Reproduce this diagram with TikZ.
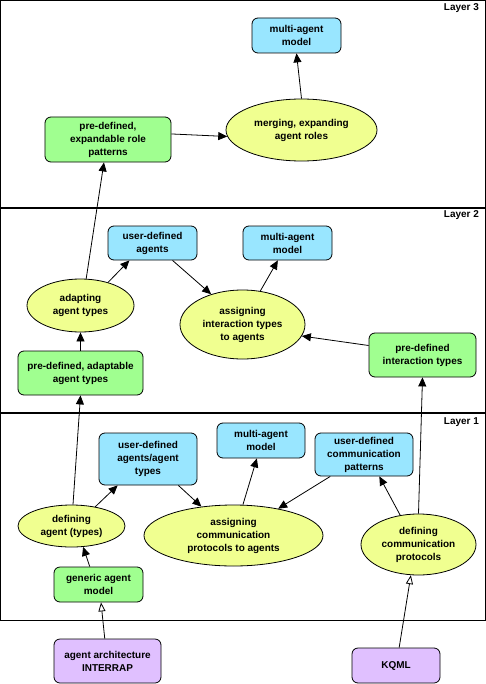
\documentclass[tikz,border=0pt]{standalone}
\usepackage{fontspec}
\setmainfont{Liberation Sans}
\usetikzlibrary{shapes.geometric, arrows.meta}
\definecolor{userblue}{RGB}{153,230,255}
\definecolor{givengreen}{RGB}{160,255,144}
\definecolor{taskyellow}{RGB}{240,255,144}
\definecolor{basepurple}{RGB}{224,192,255}
\begin{document}
\begin{tikzpicture}[x=1bp, y=-1bp]
            \tikzstyle{frame} = [line width=1bp]
            \tikzstyle{divider} = [line width=2bp]
            \tikzstyle{txt} = [draw, line width=0.8bp, align=center, inner sep=0pt, font=\bfseries\fontsize{10}{13}\selectfont]
            \tikzstyle{user} = [txt, rounded corners=6bp, fill=userblue]
            \tikzstyle{given} = [txt, rounded corners=6bp, fill=givengreen]
            \tikzstyle{base} = [txt, rounded corners=6bp, fill=basepurple]
            \tikzstyle{task} = [txt, ellipse, fill=taskyellow]
            \tikzstyle{layertag} = [anchor=north east, inner sep=0pt, font=\bfseries\fontsize{10}{13}\selectfont]
            \tikzstyle{flow} = [line width=0.8bp, -{Triangle[length=9bp, width=8bp]}]
            \tikzstyle{import} = [line width=0.8bp, -{Triangle[open, length=9bp, width=7bp, fill=white]}]
            \useasboundingbox (0, 0) rectangle (486, 684);
            \fill[white] (0, 0) rectangle (486, 684);
            \draw[frame] (0.5, 0.5) rectangle (485.5, 620);
            \draw[divider] (0, 207.5) -- (486, 207.5);
            \draw[divider] (0, 413) -- (486, 413);
            \node[layertag] (tag3) at (479, 3.5) {Layer 3};
            \node[layertag] (tag2) at (479, 210.5) {Layer 2};
            \node[layertag] (tag1) at (479, 417.5) {Layer 1};
            \node[user, minimum width=89bp, minimum height=35bp] (mam3) at (296.5, 35.5) {multi-agent\\model};
            \node[given, minimum width=126bp, minimum height=45bp] (roles) at (108, 139.5) {pre-defined,\\expandable role\\patterns};
            \node[task, minimum width=151bp, minimum height=62bp] (merge) at (301.5, 130) {merging, expanding\\agent roles};
            \node[user, minimum width=89bp, minimum height=34bp] (uda) at (152.5, 243) {user-defined\\agents};
            \node[user, minimum width=89bp, minimum height=34bp] (mam2) at (287.5, 243) {multi-agent\\model};
            \node[task, minimum width=107bp, minimum height=53bp] (adapt) at (80.5, 305.5) {adapting\\agent types};
            \node[task, minimum width=125bp, minimum height=69bp] (assign2) at (242.5, 324.5) {assigning\\interaction types\\to agents};
            \node[given, minimum width=125bp, minimum height=44bp] (predef) at (80.5, 373) {pre-defined, adaptable\\agent types};
            \node[given, minimum width=107bp, minimum height=44bp] (predint) at (422.5, 355) {pre-defined\\interaction types};
            \node[user, minimum width=98bp, minimum height=52bp] (udat) at (148, 459) {user-defined\\agents/agent\\types};
            \node[user, minimum width=88bp, minimum height=35bp] (mam1) at (261, 440.5) {multi-agent\\model};
            \node[user, minimum width=98bp, minimum height=43bp] (udcp) at (364, 454.5) {user-defined\\communication\\patterns};
            \node[task, minimum width=107bp, minimum height=42bp] (defag) at (71.5, 526) {defining\\agent (types)};
            \node[task, minimum width=179bp, minimum height=61bp] (assign1) at (233.5, 535.5) {assigning\\communication\\protocols to agents};
            \node[task, minimum width=115bp, minimum height=61bp] (defcp) at (418.5, 544.5) {defining\\communication\\protocols};
            \node[given, minimum width=89bp, minimum height=35bp] (generic) at (98.5, 584.5) {generic agent\\model};
            \node[base, minimum width=107bp, minimum height=44bp] (interrap) at (107.5, 661) {agent architecture\\INTERRAP};
            \node[base, minimum width=88bp, minimum height=35bp] (kqml) at (396, 665.5) {KQML};
            \draw[flow] (roles.5) -- (merge.185);
            \draw[flow] (merge.north) -- (mam3.south);
            \draw[flow] (adapt.78) -- (roles.260);
            \draw[flow] (adapt.40) -- (uda.217);
            \draw[flow] (uda.319) -- (assign2.136);
            \draw[flow] (assign2.62) -- (mam2.241);
            \draw[flow] (predint.170) -- (assign2.349);
            \draw[flow] (predef.north) -- (adapt.south);
            \draw[flow] (defag.86) -- (predef.south);
            \draw[flow] (defag.39) -- (udat.221);
            \draw[flow] (udat.319) -- (assign1.138);
            \draw[flow] (assign1.73) -- (mam1.257);
            \draw[flow] (udcp.213) -- (assign1.31);
            \draw[flow] (defcp.122) -- (udcp.305);
            \draw[flow] (defcp.north) -- (predint.south);
            \draw[flow] (generic.116) -- (defag.299);
            \draw[import] (interrap.97) -- (generic.278);
            \draw[import] (kqml.80) -- (defcp.256);
        \end{tikzpicture}
\end{document}
